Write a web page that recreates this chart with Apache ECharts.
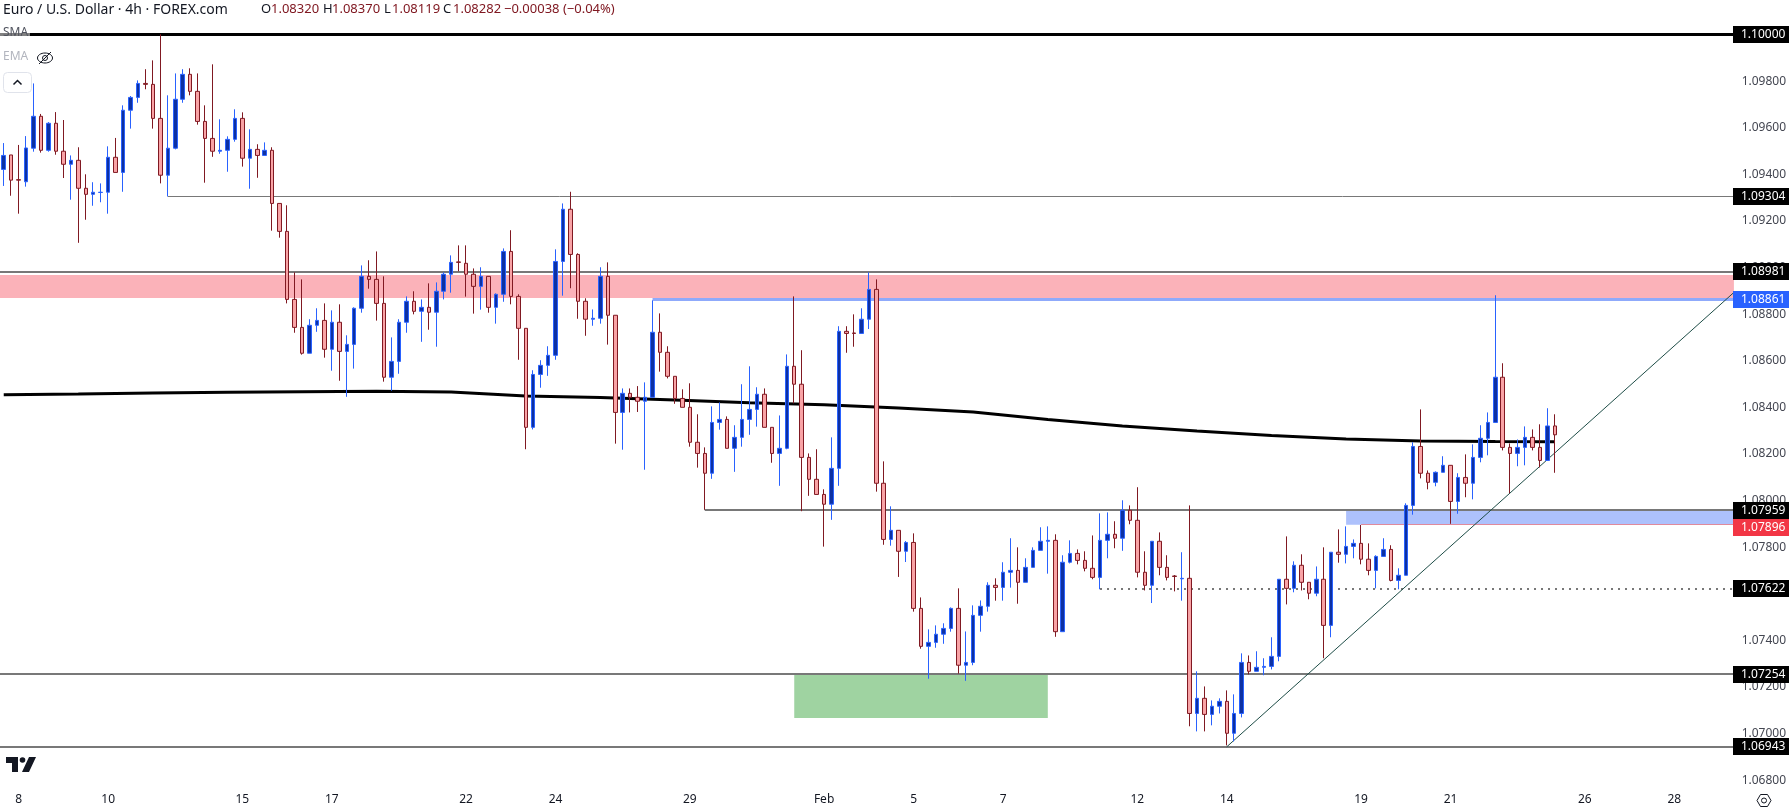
<!DOCTYPE html>
<html>
<head>
<meta charset="utf-8">
<style>html,body{margin:0;padding:0;background:#fff;overflow:hidden}#c{width:1790px;height:811px}</style>
<script src="https://cdn.jsdelivr.net/npm/echarts@6/dist/echarts.min.js"></script>
</head>
<body>
<div id="c"></div>
<script>
const opens = [
1.09421,1.09483,1.09377,1.09368,1.09512,1.09649,1.09503,1.09619,1.09499,1.09443,
1.09460,1.09340,1.09314,1.09322,1.09323,1.09473,1.09408,1.09675,1.09730,1.09790,
1.09786,1.09640,1.09396,1.09512,1.09722,1.09829,1.09756,1.09627,1.09554,1.09499,
1.09503,1.09550,1.09640,1.09469,1.09507,1.09481,1.09503,1.09275,1.09155,1.08863,
1.08743,1.08632,1.08752,1.08773,1.08649,1.08765,1.08640,1.08670,1.08825,1.08962,
1.08949,1.08846,1.08529,1.08597,1.08765,1.08855,1.08812,1.08829,1.08808,1.08898,
1.08971,1.09024,1.09018,1.08971,1.08919,1.08962,1.08829,1.08885,1.09069,1.08876,
1.08739,1.08314,1.08541,1.08580,1.08623,1.09026,1.09250,1.09056,1.08855,1.08778,
1.08782,1.08962,1.08795,1.08378,1.08460,1.08443,1.08426,1.08443,1.08722,1.08636,
1.08533,1.08438,1.08400,1.08250,1.08202,1.08117,1.08335,1.08348,1.08224,1.08271,
1.08348,1.08391,1.08456,1.08314,1.08202,1.08224,1.08576,1.08499,1.08185,1.08091,
1.08026,1.07984,1.08138,1.08726,1.08719,1.08717,1.08778,1.08906,1.08074,1.07833,
1.07872,1.07782,1.07820,1.07537,1.07374,1.07391,1.07426,1.07451,1.07537,1.07293,
1.07305,1.07507,1.07546,1.07636,1.07627,1.07692,1.07700,1.07649,1.07713,1.07786,
1.07825,1.07829,1.07437,1.07735,1.07773,1.07743,1.07709,1.07670,1.07829,1.07855,
1.07838,1.07958,1.07915,1.07692,1.07636,1.07825,1.07713,1.07676,1.07664,1.07666,
1.07086,1.07151,1.07082,1.07117,1.07138,1.07001,1.07086,1.07305,1.07267,1.07284,
1.07288,1.07331,1.07662,1.07623,1.07722,1.07649,1.07602,1.07662,1.07464,1.07778,
1.07769,1.07803,1.07816,1.07748,1.07700,1.07760,1.07790,1.07657,1.07679,1.07979,
1.08232,1.08117,1.08078,1.08121,1.08151,1.07996,1.08099,1.08074,1.08185,1.08267,
1.08335,1.08529,1.08228,1.08202,1.08228,1.08271,1.08228,1.08172,1.08320];
const closes = [
1.09481,1.09375,1.09375,1.09513,1.09649,1.09503,1.09619,1.09499,1.09443,1.09460,
1.09340,1.09314,1.09323,1.09323,1.09473,1.09408,1.09675,1.09730,1.09790,1.09786,
1.09640,1.09396,1.09512,1.09722,1.09829,1.09756,1.09627,1.09554,1.09499,1.09503,
1.09550,1.09640,1.09469,1.09507,1.09481,1.09503,1.09275,1.09155,1.08863,1.08743,
1.08632,1.08752,1.08773,1.08649,1.08765,1.08640,1.08670,1.08825,1.08962,1.08949,
1.08846,1.08529,1.08597,1.08765,1.08855,1.08812,1.08829,1.08808,1.08898,1.08971,
1.09022,1.09022,1.08971,1.08919,1.08962,1.08829,1.08885,1.09069,1.08876,1.08739,
1.08314,1.08541,1.08580,1.08623,1.09026,1.09250,1.09056,1.08855,1.08778,1.08782,
1.08962,1.08795,1.08378,1.08460,1.08443,1.08426,1.08443,1.08722,1.08636,1.08533,
1.08438,1.08400,1.08250,1.08202,1.08117,1.08335,1.08348,1.08224,1.08271,1.08348,
1.08391,1.08456,1.08314,1.08202,1.08224,1.08576,1.08499,1.08185,1.08091,1.08026,
1.07984,1.08138,1.08726,1.08717,1.08717,1.08778,1.08906,1.08074,1.07833,1.07872,
1.07782,1.07820,1.07537,1.07374,1.07391,1.07426,1.07451,1.07537,1.07293,1.07305,
1.07507,1.07546,1.07636,1.07627,1.07692,1.07700,1.07649,1.07713,1.07786,1.07825,
1.07829,1.07437,1.07735,1.07773,1.07743,1.07709,1.07670,1.07829,1.07855,1.07838,
1.07958,1.07915,1.07692,1.07636,1.07825,1.07713,1.07670,1.07674,1.07666,1.07086,
1.07151,1.07082,1.07117,1.07138,1.07001,1.07086,1.07305,1.07267,1.07284,1.07288,
1.07331,1.07662,1.07623,1.07722,1.07649,1.07602,1.07662,1.07464,1.07778,1.07769,
1.07803,1.07816,1.07748,1.07700,1.07760,1.07790,1.07657,1.07679,1.07979,1.08232,
1.08117,1.08078,1.08121,1.08151,1.07996,1.08099,1.08074,1.08185,1.08267,1.08335,
1.08529,1.08228,1.08202,1.08228,1.08271,1.08228,1.08172,1.08320,1.08282];
const highs = [
1.09534,1.09483,1.09526,1.09564,1.09790,1.09659,1.09624,1.09667,1.09633,1.09481,
1.09516,1.09400,1.09366,1.09361,1.09520,1.09556,1.09696,1.09736,1.09803,1.09851,
1.09889,1.10001,1.09739,1.09833,1.09851,1.09855,1.09833,1.09696,1.09872,1.09636,
1.09563,1.09679,1.09666,1.09593,1.09529,1.09537,1.09516,1.09275,1.09267,1.08979,
1.08949,1.08778,1.08825,1.08846,1.08816,1.08842,1.08709,1.08829,1.09009,1.09031,
1.09069,1.08962,1.08700,1.08778,1.08876,1.08898,1.08863,1.08932,1.08936,1.08979,
1.09052,1.09095,1.09095,1.08996,1.09001,1.08962,1.08889,1.09082,1.09160,1.08885,
1.08739,1.08559,1.08602,1.08662,1.09078,1.09275,1.09325,1.09061,1.08868,1.08820,
1.09001,1.09022,1.08795,1.08481,1.08481,1.08491,1.08507,1.08859,1.08803,1.08662,
1.08533,1.08477,1.08503,1.08370,1.08228,1.08404,1.08421,1.08361,1.08323,1.08499,
1.08576,1.08486,1.08481,1.08314,1.08365,1.08627,1.08876,1.08645,1.08202,1.08220,
1.08048,1.08271,1.08748,1.08748,1.08799,1.08825,1.08979,1.08949,1.08168,1.07975,
1.07872,1.07826,1.07859,1.07584,1.07447,1.07464,1.07473,1.07541,1.07623,1.07438,
1.07550,1.07571,1.07649,1.07666,1.07735,1.07838,1.07799,1.07752,1.07799,1.07885,
1.07889,1.07855,1.07765,1.07829,1.07790,1.07782,1.07850,1.07945,1.07949,1.07911,
1.08001,1.07979,1.08057,1.07782,1.07825,1.07863,1.07765,1.07680,1.07778,1.07979,
1.07267,1.07202,1.07142,1.07151,1.07185,1.07168,1.07344,1.07335,1.07353,1.07323,
1.07413,1.07662,1.07846,1.07739,1.07769,1.07649,1.07717,1.07799,1.07778,1.07876,
1.07889,1.07833,1.07895,1.07816,1.07765,1.07838,1.07808,1.07709,1.07988,1.08250,
1.08391,1.08129,1.08125,1.08190,1.08151,1.08117,1.08198,1.08241,1.08323,1.08378,
1.08881,1.08589,1.08245,1.08262,1.08318,1.08305,1.08327,1.08396,1.08370];
const lows = [
1.09350,1.09308,1.09231,1.09347,1.09497,1.09493,1.09497,1.09484,1.09384,1.09291,
1.09106,1.09205,1.09265,1.09280,1.09231,1.09408,1.09325,1.09596,1.09707,1.09765,
1.09596,1.09361,1.09305,1.09507,1.09707,1.09739,1.09613,1.09364,1.09475,1.09488,
1.09411,1.09540,1.09433,1.09338,1.09385,1.09481,1.09158,1.09128,1.08846,1.08720,
1.08626,1.08632,1.08724,1.08613,1.08557,1.08514,1.08445,1.08566,1.08806,1.08909,
1.08772,1.08510,1.08471,1.08544,1.08720,1.08799,1.08681,1.08733,1.08660,1.08863,
1.08892,1.08984,1.08875,1.08802,1.08819,1.08806,1.08759,1.08853,1.08842,1.08604,
1.08220,1.08305,1.08484,1.08535,1.08604,1.08879,1.08911,1.08780,1.08707,1.08750,
1.08759,1.08669,1.08244,1.08218,1.08378,1.08380,1.08132,1.08443,1.08553,1.08524,
1.08415,1.08400,1.08231,1.08141,1.07960,1.08093,1.08304,1.08224,1.08123,1.08231,
1.08282,1.08317,1.08314,1.08162,1.08063,1.08220,1.08417,1.07954,1.08020,1.08026,
1.07802,1.07917,1.08063,1.08634,1.08660,1.08717,1.08736,1.08038,1.07810,1.07806,
1.07672,1.07736,1.07523,1.07364,1.07235,1.07368,1.07385,1.07437,1.07257,1.07226,
1.07293,1.07437,1.07523,1.07570,1.07570,1.07626,1.07557,1.07649,1.07713,1.07786,
1.07686,1.07415,1.07437,1.07730,1.07726,1.07696,1.07662,1.07619,1.07752,1.07795,
1.07784,1.07898,1.07670,1.07614,1.07560,1.07679,1.07657,1.07610,1.07570,1.07031,
1.07009,1.07009,1.07035,1.07086,1.06949,1.06966,1.07069,1.07254,1.07267,1.07250,
1.07275,1.07310,1.07554,1.07606,1.07614,1.07576,1.07589,1.07323,1.07413,1.07733,
1.07730,1.07752,1.07726,1.07679,1.07623,1.07760,1.07653,1.07619,1.07679,1.07939,
1.08095,1.08048,1.08061,1.08121,1.07900,1.07943,1.08014,1.08005,1.08164,1.08194,
1.08335,1.08215,1.08031,1.08147,1.08151,1.08215,1.08142,1.08172,1.08119];

// moving average at these bars
const smaBars = [0,10,20,30,40,50,60,65,70,75,80,90,100,110,120,130,140,150,160,170,180,190,200,208];
const smaValues = [1.08454,1.08457,1.08461,1.08465,1.08467,1.08469,1.08466,1.08457,1.08448,1.08445,1.08442,1.08431,1.08420,1.08411,1.08397,1.08380,1.08348,1.08320,1.08298,1.08279,1.08264,1.08255,1.08253,1.08252];

// horizontal levels
const levelPrices = [1.10000,1.09304,1.08981,1.08861,1.07959,1.07896,1.07622,1.07254,1.06943];
const levelStarts = [-1,22,-1,87,94,182,147,-1,-1];

// shaded zones
const zoneStarts = [-1,180,106];
const zoneEnds   = [232,232,140];
const zoneTops   = [1.08968,1.07959,1.07254];
const zoneBottoms= [1.08869,1.07896,1.07066];

// trend line
const trendBars = [164,232];
const trendValues = [1.06943,1.08893];

// axis
const tickBars = [2,14,32,44,62,74,92,110,122,134,152,164,182,194,212,224];
const tickLabels = ['8','10','15','17','22','24','29','Feb','5','7','12','14','19','21','26','28'];
const priceTicks = [1.068,1.070,1.072,1.074,1.078,1.080,1.082,1.084,1.086,1.088,1.090,1.092,1.094,1.096,1.098];
const barCount = 233;

// styles
const FONT = '"Noto Sans", sans-serif';
const levelStyle = [
  {c:'#000000',w:3},{c:'#787878',w:1},{c:'#787878',w:2},{c:'#8faafb',w:3},{c:'#787878',w:2},
  {c:'#e08a9c',w:1},{c:'#787878',w:2,dash:[2,5]},{c:'#787878',w:2},{c:'#787878',w:2}];
const tagStyle = ['#000000','#000000','#000000','#2962ff','#000000','#f23645','#000000','#000000','#000000'];
const tagShift = [0,0,0,0,0,3,0,0,0];
const zoneColor = ['#fbb2b9','#adc1fc','#9fd3a1'];
const grid = {left:-1.66, top:0, width:1739.3, height:790};
const PX = 23300;
const yMax = 1.1 + 34.5/PX, yMin = yMax - grid.height/PX;

const categories = [];
for (let i=0;i<barCount;i++){ const k=tickBars.indexOf(i); categories.push(k>=0?tickLabels[k]:''); }
const candles = opens.map((o,i)=>[o,closes[i],lows[i],highs[i]]);

function snap(v,w){ return w%2 ? Math.floor(v)+0.5 : Math.round(v); }

const option = {
  animation:false,
  backgroundColor:'#ffffff',
  textStyle:{fontFamily:FONT},
  grid:Object.assign({containLabel:false},grid),
  xAxis:{type:'category',data:categories,boundaryGap:true,
    axisLine:{show:false},axisTick:{show:false},splitLine:{show:false},
    axisLabel:{color:'#131722',fontSize:12,fontFamily:FONT,margin:4,hideOverlap:false,
      interval:(i)=>tickBars.indexOf(i)>=0}},
  yAxis:{type:'value',position:'right',min:yMin,max:yMax,scale:true,
    axisLine:{show:false},axisTick:{show:false},splitLine:{show:false},
    axisLabel:{customValues:priceTicks,color:'#434651',fontSize:12,fontFamily:FONT,margin:4,
      formatter:(v)=>Number(v).toFixed(5)}},
  series:[
    {type:'custom',name:'zones',z:1,silent:true,
      data:zoneStarts.map((s,i)=>[s,zoneEnds[i],zoneTops[i],zoneBottoms[i],i]),
      encode:{x:[0,1],y:[2,3]},
      renderItem:(p,api)=>{
        const a=api.coord([api.value(0),api.value(2)]), b=api.coord([api.value(1),api.value(3)]);
        return {type:'rect',shape:{x:a[0],y:a[1],width:b[0]-a[0],height:b[1]-a[1]},
          style:{fill:zoneColor[api.value(4)]}};
      }},
    {type:'custom',name:'levels',z:2,silent:true,
      data:levelPrices.map((v,i)=>[levelStarts[i],v,i]),
      encode:{x:0,y:1},
      renderItem:(p,api)=>{
        const i=api.value(2), st=levelStyle[i];
        const a=api.coord([api.value(0),api.value(1)]), b=api.coord([barCount-1,api.value(1)]);
        const y=snap(a[1],st.w);
        return {type:'line',shape:{x1:a[0],y1:y,x2:b[0],y2:y},
          style:{stroke:st.c,lineWidth:st.w,lineDash:st.dash||null}};
      }},
    {type:'line',name:'SMA',z:3,silent:true,showSymbol:false,smooth:false,
      data:smaBars.map((b,i)=>[b,smaValues[i]]),
      lineStyle:{color:'#000000',width:3}},
    {type:'line',name:'Trend',z:3,silent:true,showSymbol:false,
      data:trendBars.map((b,i)=>[b,trendValues[i]]),
      lineStyle:{color:'#1e4d47',width:1}},
    {type:'candlestick',name:'EURUSD',z:4,silent:true,barWidth:4,data:candles,
      itemStyle:{color:'#0d31a3',color0:'#f8a3a6',borderColor:'#2962ff',borderColor0:'#801922',borderWidth:1}},
    {type:'custom',name:'tags',z:10,silent:true,
      data:levelPrices.map((v,i)=>[0,v,i]),
      encode:{y:1},
      renderItem:(p,api)=>{
        const i=api.value(2), W=api.getWidth();
        const y=api.coord([0,api.value(1)])[1]+tagShift[i];
        const top=Math.round(y-8.5);
        return {type:'group',children:[
          {type:'rect',shape:{x:W-57,y:top,width:56,height:17},style:{fill:tagStyle[i]}},
          {type:'text',style:{x:W-49,y:top+8.5,text:api.value(1).toFixed(5),fill:'#ffffff',
            font:'12px '+FONT,textAlign:'left',textVerticalAlign:'middle'}}
        ]};
      }}
  ],
  graphic:{elements:[
    {type:'text',z:50,x:3,y:3,style:{text:'Euro / U.S. Dollar · 4h · FOREX.com',fill:'#131722',font:'14px '+FONT}},
    {type:'text',z:50,x:261,y:3,style:{text:'O',fill:'#131722',font:'13px '+FONT}},
    {type:'text',z:50,x:271,y:3,style:{text:'1.08320',fill:'#801922',font:'13px '+FONT}},
    {type:'text',z:50,x:323,y:3,style:{text:'H',fill:'#131722',font:'13px '+FONT}},
    {type:'text',z:50,x:332,y:3,style:{text:'1.08370',fill:'#801922',font:'13px '+FONT}},
    {type:'text',z:50,x:384,y:3,style:{text:'L',fill:'#131722',font:'13px '+FONT}},
    {type:'text',z:50,x:392,y:3,style:{text:'1.08119',fill:'#801922',font:'13px '+FONT}},
    {type:'text',z:50,x:443,y:3,style:{text:'C',fill:'#131722',font:'13px '+FONT}},
    {type:'text',z:50,x:453,y:3,style:{text:'1.08282',fill:'#801922',font:'13px '+FONT}},
    {type:'text',z:50,x:504,y:3,style:{text:'−0.00038 (−0.04%)',fill:'#801922',font:'13px '+FONT}},
    {type:'rect',z:50,shape:{x:0,y:28,width:30,height:13},style:{fill:'rgba(255,255,255,0.5)'}},
    {type:'text',z:51,x:3,y:27,style:{text:'SMA',fill:'#50535e',font:'12px '+FONT}},
    {type:'text',z:51,x:3,y:51,style:{text:'EMA',fill:'#b2b5be',font:'12px '+FONT}},
    {type:'ellipse',z:51,shape:{cx:45,cy:58,rx:7.5,ry:5},style:{fill:'none',stroke:'#131722',lineWidth:1}},
    {type:'circle',z:51,shape:{cx:45,cy:58,r:2.5},style:{fill:'none',stroke:'#131722',lineWidth:1}},
    {type:'line',z:51,shape:{x1:51,y1:52,x2:39,y2:64},style:{stroke:'#131722',lineWidth:1}},
    {type:'rect',z:51,shape:{x:3.5,y:72.5,width:28,height:20,r:4},style:{fill:'#ffffff',stroke:'#e0e3eb',lineWidth:1}},
    {type:'polyline',z:52,shape:{points:[[13.5,84.5],[17.5,80.5],[21.5,84.5]]},style:{fill:'none',stroke:'#131722',lineWidth:1.5}},
    {type:'polygon',z:51,shape:{points:[[6,757],[18,757],[18,772],[12,772],[12,763],[6,763]]},style:{fill:'#131722'}},
    {type:'circle',z:51,shape:{cx:22.5,cy:760,r:2.8},style:{fill:'#131722'}},
    {type:'polygon',z:51,shape:{points:[[29,757],[36,757],[29,772],[22,772]]},style:{fill:'#131722'}},
    {type:'polygon',z:51,shape:{points:[[1757,800.5],[1760.5,794.5],[1767.5,794.5],[1771,800.5],[1767.5,806.5],[1760.5,806.5]]},style:{fill:'none',stroke:'#131722',lineWidth:1}},
    {type:'circle',z:51,shape:{cx:1764,cy:800.5,r:2.5},style:{fill:'none',stroke:'#131722',lineWidth:1}}
  ]}
};
const chart = echarts.init(document.getElementById('c'),null,{renderer:'canvas',width:1790,height:811});
chart.setOption(option);
</script>
</body>
</html>
